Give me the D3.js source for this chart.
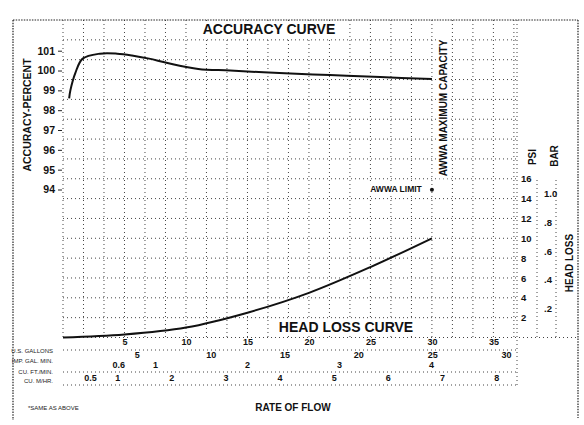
<!DOCTYPE html>
<html lang="en">
<head>
<meta charset="UTF-8">
<title>Accuracy / Head Loss Curve</title>
<script src="https://d3js.org/d3.v7.min.js"></script>
<style>
    body { margin: 0; background: #fff; }
    svg { display: block; }
    .grid { stroke: #444; stroke-width: 1; stroke-dasharray: 1,3; fill: none; }
    .frame { stroke: #222; stroke-width: 1.2; stroke-dasharray: 1.5,1.2; fill: none; }
    .curve { fill: none; stroke: #111; stroke-width: 2; }
    .bold { font-family: "Liberation Sans", Arial, sans-serif; font-weight: bold; fill: #111; }
    .tick text { font-family: "Liberation Sans", Arial, sans-serif; font-weight: bold; fill: #111; }
    .small { font-family: "Liberation Sans", Arial, sans-serif; font-size: 6px; fill: #222; }
</style>
</head>
<body>
<svg width="584" height="425"></svg>
<script>
// accuracy curve (flow in US gpm)
const accFlow = [0.5, 0.6, 1.0, 1.6, 3, 4.4, 5.6, 7.0, 8.5, 11, 13.6, 17.6, 21.7, 25.8, 30];
const accValue = [98.6, 99.0, 99.87, 100.6, 100.85, 100.85, 100.76, 100.6, 100.38, 100.08, 100.0, 99.87, 99.77, 99.67, 99.57];

// head loss curve (psi)
const lossFlow = [0, 5, 10, 15, 20, 25, 30];
const lossPsi = [0, 0.3, 1.0, 2.5, 4.5, 7.1, 10];

// tick labels
const accTicks = [94, 95, 96, 97, 98, 99, 100, 101];
const psiTicks = [2, 4, 6, 8, 10, 12, 14, 16];
const barTicks = [0.2, 0.4, 0.6, 0.8, 1.0];
const gpmTicks = [5, 10, 15, 20, 25, 30, 35];
const impTicks = [5, 10, 15, 20, 25, 30];
const cuftTicks = [0.6, 1, 2, 3, 4];
const m3hTicks = [0.5, 1, 2, 3, 4, 5, 6, 7, 8];
const rowNames = ["U.S. GALLONS", "IMP. GAL. MIN.", "CU. FT./MIN.", "CU. M/HR."];

const awwaMaxFlow = 30;
const awwaLimitPsi = 15;

const svg = d3.select("svg");

const pLeft = 63, pRight = 518, pTop = 20, pBase = 337.5;

const x = d3.scaleLinear().domain([0, 37]).range([pLeft, pRight]);
const xImp = d3.scaleLinear().domain([0, 37 / 1.20095]).range([pLeft, pRight]);
const xCuft = d3.scaleLinear().domain([0, 37 / 7.4805]).range([pLeft, pRight]);
const xM3h = d3.scaleLinear().domain([0, 37 / 4.4029]).range([pLeft, pRight]);

const yPsi = d3.scaleLinear().domain([0, 32]).range([pBase, pTop]);
const yBar = d3.scaleLinear().domain([0, 32 / 14.504]).range([pBase, pTop]);
const yAcc = d3.scaleLinear().domain([94, 101]).range([189.5, 50.7]);

// grid
const vGrid = d3.range(0, 23).map(i => i * 5 / 3);
svg.append("g").selectAll("line")
    .data(vGrid)
  .enter().append("line")
    .attr("class", "grid")
    .attr("x1", d => x(d)).attr("x2", d => x(d))
    .attr("y1", pTop).attr("y2", pBase);

const hGrid = d3.range(2, 32, 2);
svg.append("g").selectAll("line")
    .data(hGrid)
  .enter().append("line")
    .attr("class", "grid")
    .attr("x1", pLeft).attr("x2", pRight)
    .attr("y1", d => yPsi(d)).attr("y2", d => yPsi(d));

// frame
svg.append("line").attr("class", "frame").attr("x1", 13).attr("x2", 578).attr("y1", pTop).attr("y2", pTop);
svg.append("line").attr("class", "frame").attr("x1", 13).attr("x2", 13).attr("y1", pTop).attr("y2", 420);
svg.append("line").attr("class", "frame").attr("x1", 578).attr("x2", 578).attr("y1", pTop).attr("y2", 418);
svg.append("line").attr("class", "grid").attr("x1", pLeft).attr("x2", 578).attr("y1", pBase).attr("y2", pBase);
svg.append("line").attr("class", "grid").attr("x1", pRight - 1).attr("x2", pRight - 1).attr("y1", pTop).attr("y2", 385);
svg.append("line").attr("class", "grid").attr("x1", 537).attr("x2", 537).attr("y1", 180).attr("y2", pBase);
svg.append("line").attr("class", "grid").attr("x1", 556).attr("x2", 556).attr("y1", 180).attr("y2", pBase);

// bottom rows
[350, 372, 385].forEach(yy => {
    svg.append("line").attr("class", "grid")
        .attr("x1", pLeft).attr("x2", pRight - 1).attr("y1", yy).attr("y2", yy);
});

// curves
const accLine = d3.line()
    .x((d, i) => x(accFlow[i]))
    .y(d => yAcc(d))
    .curve(d3.curveCatmullRom);
svg.append("path").datum(accValue).attr("class", "curve").attr("d", accLine);

const lossLine = d3.line()
    .x((d, i) => x(lossFlow[i]))
    .y(d => yPsi(d))
    .curve(d3.curveCatmullRom);
svg.append("path").datum(lossPsi).attr("class", "curve").attr("d", lossLine);

// axes
svg.append("g")
    .attr("transform", "translate(62,0)")
    .call(d3.axisLeft(yAcc).tickValues(accTicks).tickSize(4).tickPadding(3).tickFormat(d => String(d)))
    .call(g => g.select(".domain").remove())
    .call(g => g.selectAll(".tick line").attr("stroke", "#222"))
    .call(g => g.selectAll(".tick text").attr("font-size", 10.5));

svg.append("g")
    .attr("transform", "translate(" + (pRight - 1) + ",0)")
    .call(d3.axisRight(yPsi).tickValues(psiTicks).tickSize(0).tickPadding(4).tickFormat(d => String(d)))
    .call(g => g.select(".domain").remove())
    .call(g => g.selectAll(".tick text").attr("font-size", 9.5));

svg.append("g")
    .attr("transform", "translate(537,0)")
    .call(d3.axisRight(yBar).tickValues(barTicks).tickSize(0).tickPadding(7)
        .tickFormat(d => d === 1 ? "1.0" : d.toFixed(1).slice(1)))
    .call(g => g.select(".domain").remove())
    .call(g => g.selectAll(".tick text").attr("font-size", 9.5));

const rows = [
    {scale: x, ticks: gpmTicks, y: 338.5},
    {scale: xImp, ticks: impTicks, y: 352},
    {scale: xCuft, ticks: cuftTicks, y: 361.5},
    {scale: xM3h, ticks: m3hTicks, y: 374.5}
];
rows.forEach(r => {
    svg.append("g")
        .attr("transform", "translate(0," + r.y + ")")
        .call(d3.axisBottom(r.scale).tickValues(r.ticks).tickSize(0).tickPadding(0).tickFormat(d => String(d)))
        .call(g => g.select(".domain").remove())
        .call(g => g.selectAll(".tick text").attr("font-size", 9));
});

svg.append("g").selectAll("text")
    .data(rowNames)
  .enter().append("text")
    .attr("class", "small")
    .attr("x", 53)
    .attr("y", (d, i) => [353, 363, 374, 383][i])
    .attr("text-anchor", "end")
    .text(d => d);

// labels with white backing
function label(txt, cx, cy, size, rot) {
    const g = svg.append("g").attr("transform", "translate(" + cx + "," + cy + ")" + (rot ? " rotate(" + rot + ")" : ""));
    const t = g.append("text").attr("class", "bold")
        .attr("text-anchor", "middle").attr("dy", "0.36em")
        .attr("font-size", size).text(txt);
    const b = t.node().getBBox();
    g.insert("rect", "text")
        .attr("x", b.x - 2).attr("y", b.y).attr("width", b.width + 4).attr("height", b.height)
        .attr("fill", "#fff");
    return g;
}

label("ACCURACY CURVE", 269, 29, 14);
label("HEAD LOSS CURVE", 346, 327, 14);
label("ACCURACY-PERCENT", 27, 115, 10.5, -90);
label("AWWA MAXIMUM CAPACITY", 443, 108, 10, -90);
label("AWWA LIMIT", 396, 189, 8.5);
label("PSI", 532, 157, 10, -90);
label("BAR", 554, 156, 10, -90);
label("HEAD LOSS", 569, 263, 10, -90);
label("RATE OF FLOW", 293, 407, 10);

svg.append("circle")
    .attr("cx", x(awwaMaxFlow)).attr("cy", yPsi(awwaLimitPsi) + 1)
    .attr("r", 2).attr("fill", "#111");

svg.append("text").attr("class", "small")
    .attr("x", 28).attr("y", 410)
    .text("*SAME AS ABOVE");
</script>
</body>
</html>
